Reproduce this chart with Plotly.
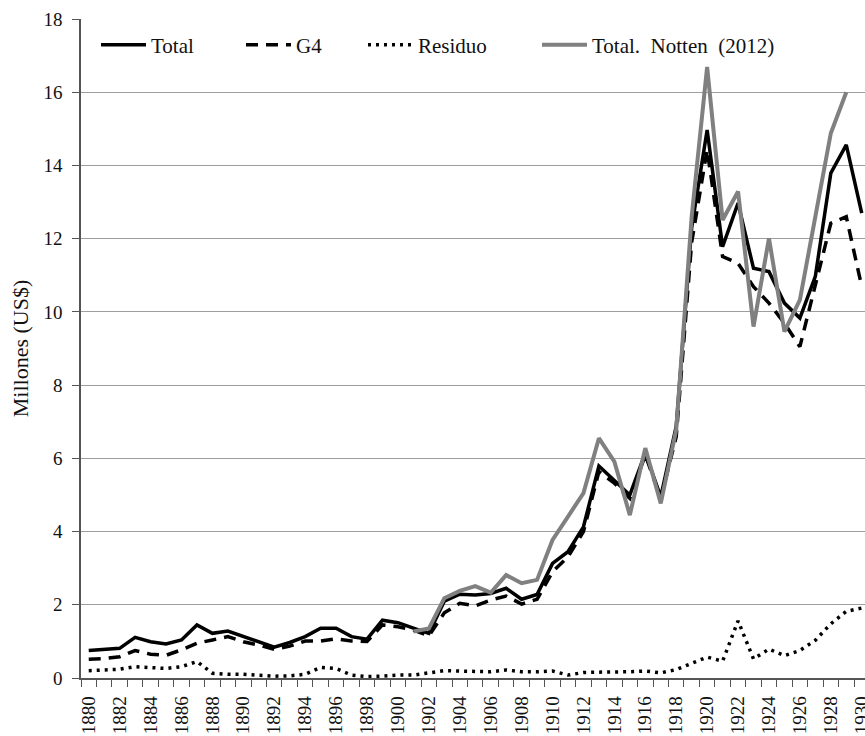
import plotly.graph_objects as go

years = list(range(1880, 1931))
year_labels = [str(y) for y in range(1880, 1931, 2)]

total = [0.75, 0.78, 0.81, 1.11, 0.99, 0.93, 1.04, 1.45, 1.22, 1.28,
         1.13, 0.99, 0.84, 0.97, 1.13, 1.36, 1.36, 1.13, 1.06, 1.58,
         1.51, 1.36, 1.22, 2.10, 2.29, 2.27, 2.31, 2.45, 2.15, 2.28,
         3.13, 3.45, 4.13, 5.79, 5.41, 5.00, 6.14, 4.95, 6.87, 12.30,
         14.97, 11.78, 12.97, 11.19, 11.10, 10.24, 9.83, 10.97, 13.79, 14.56,
         12.70]

g4 = [0.51, 0.53, 0.58, 0.75, 0.65, 0.62, 0.77, 0.95, 1.04, 1.13,
      0.99, 0.90, 0.78, 0.87, 1.01, 1.01, 1.07, 1.01, 1.00, 1.45,
      1.40, 1.31, 1.15, 1.78, 2.04, 1.97, 2.13, 2.24, 2.02, 2.15,
      2.90, 3.31, 4.00, 5.64, 5.32, 4.91, 6.09, 4.91, 6.59, 11.90,
      14.43, 11.51, 11.33, 10.69, 10.24, 9.69, 9.05, 10.69, 12.42, 12.60,
      10.69]

residuo = [0.20, 0.22, 0.24, 0.31, 0.28, 0.26, 0.31, 0.45, 0.13, 0.10,
           0.10, 0.08, 0.05, 0.06, 0.10, 0.29, 0.26, 0.08, 0.04, 0.05,
           0.08, 0.08, 0.13, 0.20, 0.19, 0.19, 0.17, 0.22, 0.17, 0.17,
           0.19, 0.08, 0.15, 0.16, 0.16, 0.17, 0.19, 0.14, 0.23, 0.41,
           0.57, 0.46, 1.56, 0.52, 0.79, 0.61, 0.75, 1.03, 1.48, 1.82,
           1.91]

notten = [None] * 21 + [1.27, 1.35, 2.18, 2.38, 2.51, 2.33, 2.81, 2.59, 2.68,
          3.77, 4.41, 5.05, 6.55, 5.91, 4.45, 6.28, 4.77, 6.78, 12.60,
          16.69, 12.51, 13.29, 9.60, 12.01, 9.46, 10.33, 12.60, 14.88, 16.00,
          None]

FONT = "Liberation Serif"
L, R = 81, 865           # plot area in window pixels
TOP, BOT = 19, 678
W = R - L
PX_PER_YEAR = 15.46

def px2paper(px):
    return (px - L) / W

fig = go.Figure()
fig.add_trace(go.Scatter(x=years, y=total, name="Total", mode="lines",
                         line=dict(color="#000000", width=3.5), legend="legend"))
fig.add_trace(go.Scatter(x=years, y=g4, name="G4", mode="lines",
                         line=dict(color="#000000", width=3.5, dash="12px,8px"), legend="legend2"))
fig.add_trace(go.Scatter(x=years, y=residuo, name="Residuo", mode="lines",
                         line=dict(color="#000000", width=3.5, dash="3px,5px"), legend="legend3"))
fig.add_trace(go.Scatter(x=years, y=notten, name="Total.\u00a0 Notten\u00a0 (2012)", mode="lines",
                         line=dict(color="#808080", width=4), legend="legend4",
                         connectgaps=False))

leg_common = dict(font=dict(family=FONT, size=21, color="#111"), bgcolor="rgba(0,0,0,0)",
                  borderwidth=0, yanchor="middle", y=(BOT - 45) / (BOT - TOP), xanchor="left",
                  itemwidth=45, orientation="h")
fig.update_layout(
    width=865, height=736,
    margin=dict(l=L, r=865 - R, t=TOP, b=736 - BOT, pad=0, autoexpand=False),
    paper_bgcolor="white", plot_bgcolor="white",
    font=dict(family=FONT, size=19, color="#111"),
    showlegend=True,
    legend=dict(x=px2paper(96), **leg_common),
    legend2=dict(x=px2paper(241), **leg_common),
    legend3=dict(x=px2paper(363), **leg_common),
    legend4=dict(x=px2paper(537), **leg_common),
    xaxis=dict(
        range=[1879.5, 1879.5 + W / PX_PER_YEAR], automargin=False,
        tickmode="array", tickvals=list(range(1880, 1931, 2)), ticktext=year_labels,
        tickangle=-90, ticks="outside", ticklen=9, tickcolor="rgba(0,0,0,0)",
        ticklabeloverflow="allow",
        tickfont=dict(family=FONT, size=19, color="#111"),
        showgrid=False, zeroline=False,
        showline=True, linecolor="#555", linewidth=1.5,
        minor=dict(tickmode="linear", tick0=1879.5, dtick=1, ticks="outside",
                   ticklen=7, tickcolor="#555", tickwidth=1, showgrid=False),
    ),
    yaxis=dict(
        range=[0, 18], tickmode="linear", tick0=0, dtick=2, automargin=False,
        ticks="outside", ticklen=7, tickcolor="#555", ticklabelstandoff=6,
        tickfont=dict(family=FONT, size=19, color="#111"),
        showgrid=True, gridcolor="#9e9e9e", gridwidth=1.2,
        zeroline=False, showline=True, linecolor="#555", linewidth=1.5,
        title=dict(text="Millones (US$)", font=dict(family=FONT, size=22, color="#111"), standoff=9),
    ),
)

fig.write_html("out.html", config={"displayModeBar": False},
               post_script="document.body.style.margin='0';document.body.style.overflow='hidden';")
